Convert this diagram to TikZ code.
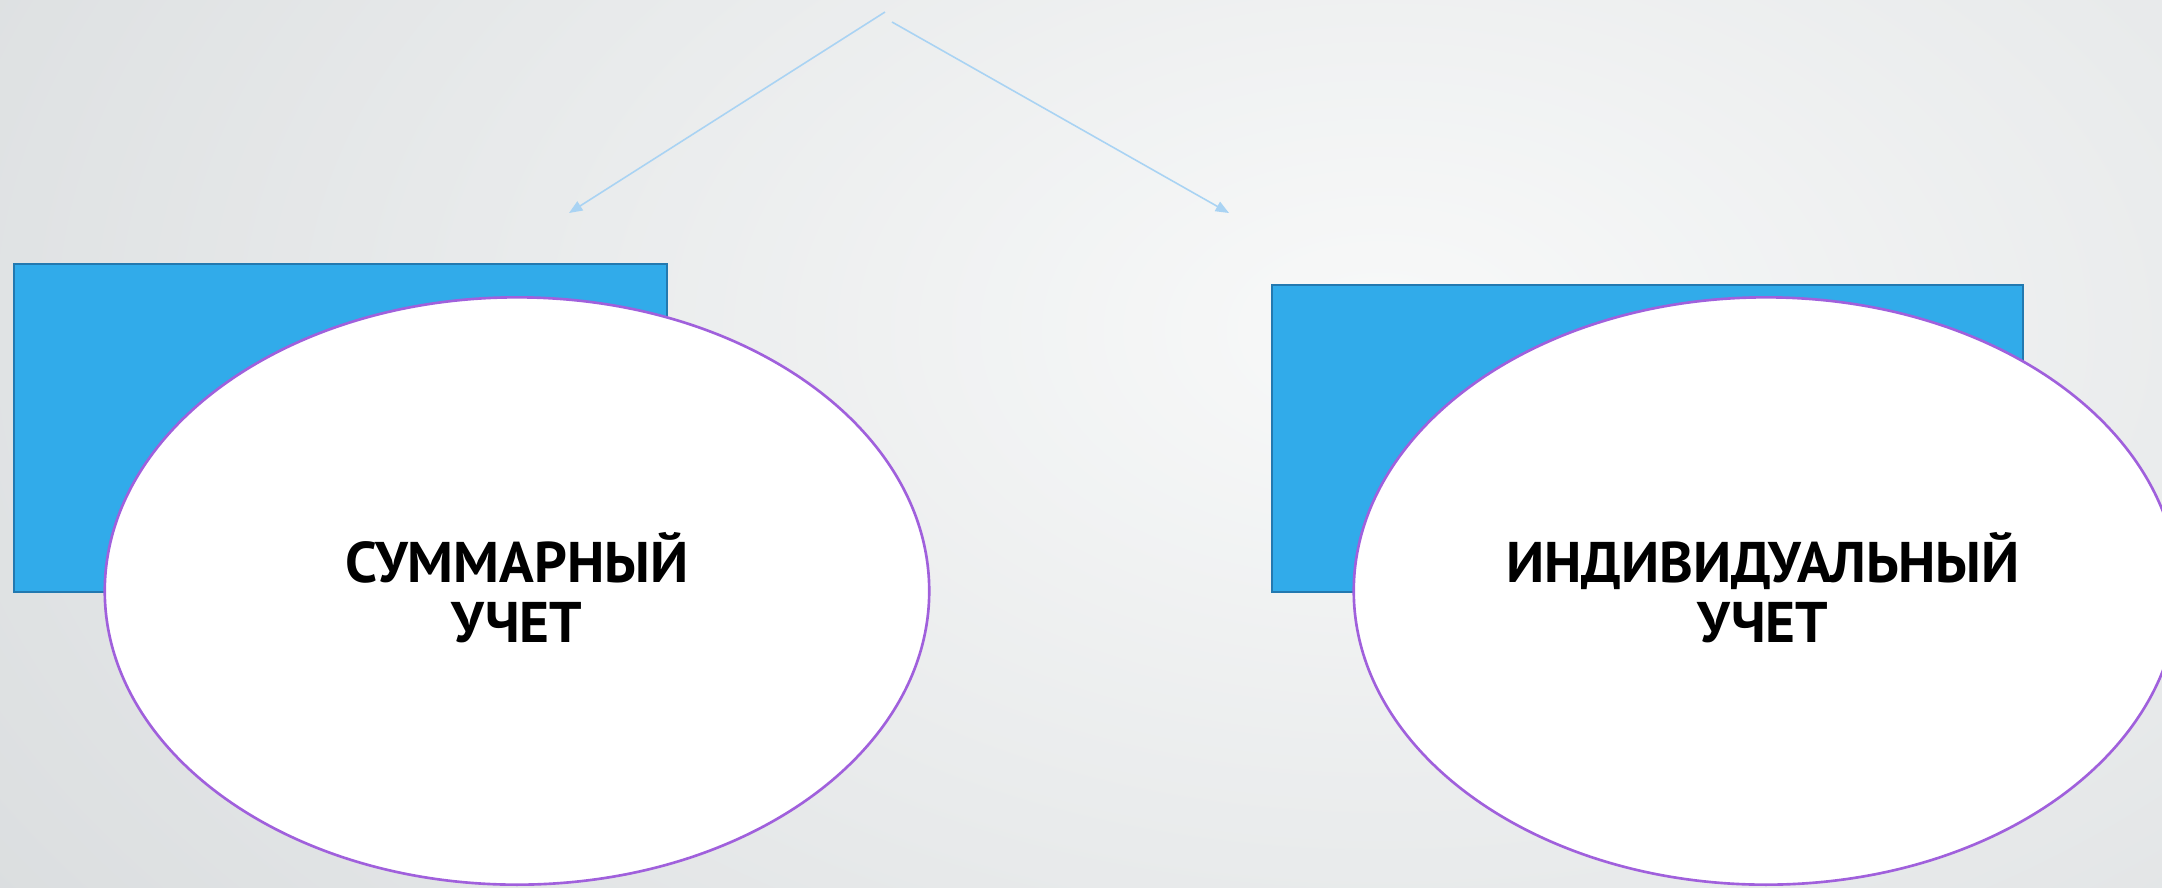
\documentclass[tikz,border=0pt]{standalone}
\usepackage{fontspec}
\setmainfont{PT Sans}
\usetikzlibrary{shapes.geometric,arrows.meta}

\definecolor{boxblue}{HTML}{31ABEA}
\definecolor{boxedge}{HTML}{2379B0}
\definecolor{ovaledge}{HTML}{A060DC}
\definecolor{arrowblue}{HTML}{A9D3F3}
\definecolor{bglight}{HTML}{F8F9F9}
\definecolor{bgdark}{HTML}{C0C5C8}

\begin{document}
\begin{tikzpicture}[x=0.01cm, y=-0.01cm]

    % パラメータの定義
    \pgfmathsetmacro{\W}{2162}
    \pgfmathsetmacro{\H}{887}

    % 背景
    \useasboundingbox (0,0) rectangle (\W,\H);
    \begin{scope}
        \clip (0,0) rectangle (\W,\H);
        \shade [inner color=bglight, outer color=bgdark] (1380,330) ellipse (32cm and 20cm);
    \end{scope}

    % 点の定義
    \coordinate (S1) at (885,12);
    \coordinate (S2) at (892,22);
    \coordinate (T1) at (569,213);
    \coordinate (T2) at (1229,213);

    % 矢印の描画
    \draw [arrowblue, line width=0.45pt, -{Triangle[length=3.8pt, width=3pt]}] (S1) -- (T1);
    \draw [arrowblue, line width=0.45pt, -{Triangle[length=3.8pt, width=3pt]}] (S2) -- (T2);

    % 長方形の描画
    \draw [boxedge, fill=boxblue, line width=0.8pt] (14,264) rectangle (667,592);
    \draw [boxedge, fill=boxblue, line width=0.8pt] (1272,285) rectangle (2023,592);

    % 楕円の描画
    \node [ellipse, draw=ovaledge, fill=white, line width=0.75pt,
        minimum width=8.24cm, minimum height=5.87cm] (sumoval) at (517,591) {};
    \node [ellipse, draw=ovaledge, fill=white, line width=0.75pt,
        minimum width=8.24cm, minimum height=5.87cm] (indoval) at (1766,591) {};

    % 文字の描画
    \node [align=center, font=\fontsize{16.3}{17}\selectfont\bfseries] (sumtext) at (517,588)
        {СУММАРНЫЙ\\УЧЕТ};
    \node [align=center, font=\fontsize{16.3}{17}\selectfont\bfseries] (indtext) at (1763,588)
        {ИНДИВИДУАЛЬНЫЙ\\УЧЕТ};

\end{tikzpicture}
\end{document}
